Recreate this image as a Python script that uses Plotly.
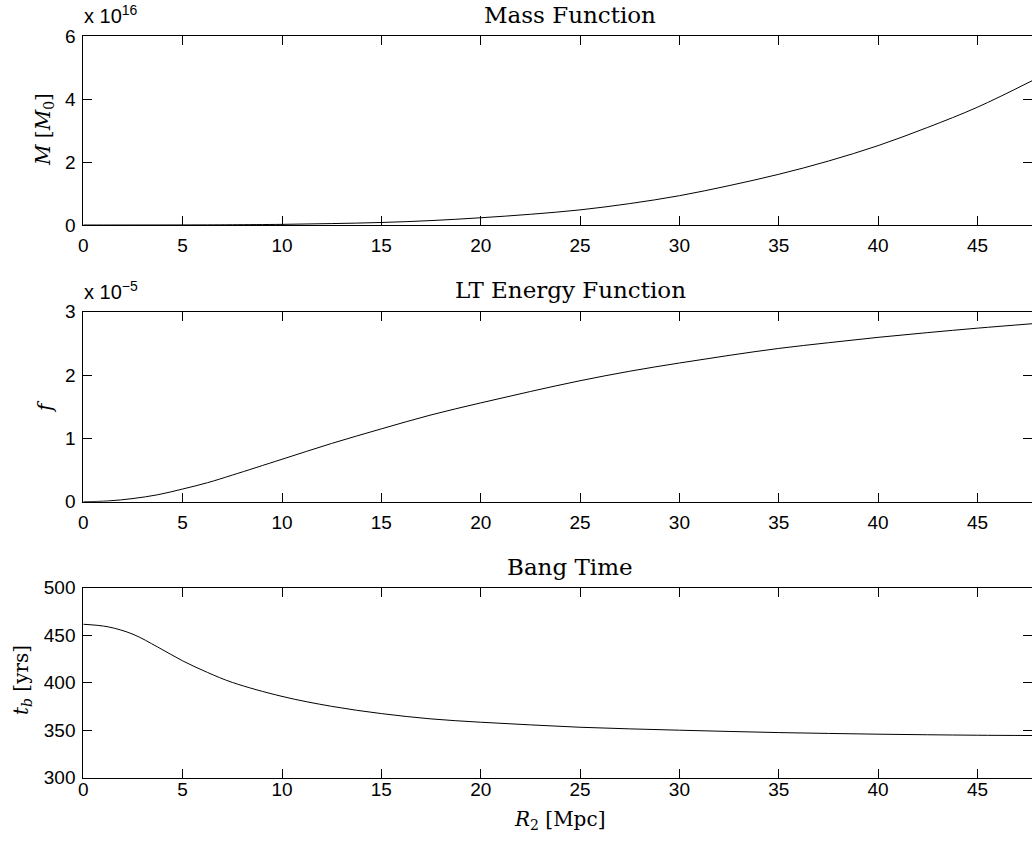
import plotly.graph_objects as go
from plotly.subplots import make_subplots

# ---- data ----
r2_mpc = [0, 1.25, 2.5, 3.75, 5, 6.25, 7.5, 10, 12.5, 15, 17.5, 20, 22.5, 25, 27.5,
          30, 32.5, 35, 37.5, 40, 42.5, 45, 47.75]
mass_1e16 = [0, 0.0, 0.0003, 0.001, 0.002, 0.004, 0.008, 0.02, 0.045, 0.08, 0.14, 0.23,
             0.34, 0.48, 0.68, 0.93, 1.25, 1.61, 2.03, 2.52, 3.10, 3.74, 4.58]
energy_1e5 = [0, 0.012, 0.05, 0.11, 0.20, 0.30, 0.42, 0.67, 0.92, 1.15, 1.37, 1.56,
              1.74, 1.91, 2.06, 2.19, 2.31, 2.42, 2.51, 2.595, 2.67, 2.74, 2.81]
bang_time = [461.5, 458.8, 451.0, 437.5, 423.0, 410.8, 400.3, 385.6, 375.1, 367.5,
             361.9, 358.4, 355.6, 353.1, 351.4, 350.0, 348.7, 347.5, 346.6, 345.8,
             345.2, 344.7, 344.4]

mass = [v * 1e16 for v in mass_1e16]
energy = [v * 1e-5 for v in energy_1e5]

x_ticks = [0, 5, 10, 15, 20, 25, 30, 35, 40, 45]
mass_ticks = [0, 2e16, 4e16, 6e16]
mass_ticktext = ["0", "2", "4", "6"]
energy_ticks = [0, 1e-5, 2e-5, 3e-5]
energy_ticktext = ["0", "1", "2", "3"]
bang_ticks = [300, 350, 400, 450, 500]

titles = ["Mass Function", "LT Energy Function", "Bang Time"]

W, H = 1032, 845
X0 = 83.3
PX_PER_UNIT = 19.87
x_max = (W - X0) / PX_PER_UNIT

def px(x):
    return x / W

def py(y):
    return 1 - y / H

fig = make_subplots(rows=3, cols=1)

for i, yvals in enumerate([mass, energy, bang_time], start=1):
    fig.add_trace(go.Scatter(x=r2_mpc, y=yvals, mode="lines",
                             line=dict(color="black", width=1, shape="spline", smoothing=1.0),
                             showlegend=False), row=i, col=1)

tick_font = dict(family="Liberation Sans, Arial, sans-serif", size=19, color="black")
common_x = dict(range=[0, x_max], tickvals=x_ticks, ticks="inside", ticklen=9,
                tickcolor="black", tickwidth=1, showline=True, linecolor="black",
                linewidth=1, mirror="allticks", showgrid=False, zeroline=False,
                tickfont=tick_font, domain=[X0 / W, 1], automargin=False)
common_y = dict(ticks="inside", ticklen=9, tickcolor="black", tickwidth=1,
                showline=True, linecolor="black", linewidth=1, mirror="allticks",
                showgrid=False, zeroline=False, tickfont=tick_font, ticklabelstandoff=3,
                automargin=False)

fig.update_layout(
    xaxis=dict(**common_x, ticklabelstandoff=3),
    xaxis2=dict(**common_x, ticklabelstandoff=3),
    xaxis3=dict(**common_x, ticklabelstandoff=-6),
    yaxis=dict(**common_y, range=[0, 6e16], tickvals=mass_ticks, ticktext=mass_ticktext,
               domain=[py(225), py(36)]),
    yaxis2=dict(**common_y, range=[0, 3e-5], tickvals=energy_ticks, ticktext=energy_ticktext,
                domain=[py(501.7), py(311.7)]),
    yaxis3=dict(**common_y, range=[300, 500], tickvals=bang_ticks,
                domain=[py(777.7), py(587.7)]),
)

serif = "DejaVu Serif, Liberation Serif, serif"
ann = []
title_y = [15, 290.5, 566.5]
for t, yy in zip(titles, title_y):
    ann.append(dict(text=t, x=px(570), y=py(yy), xref="paper", yref="paper",
                    xanchor="center", yanchor="middle", showarrow=False,
                    font=dict(family=serif, size=23, color="black")))

# exponent labels
ann.append(dict(text="x 10<sup>16</sup>", x=px(82), y=py(29), xref="paper", yref="paper",
                xanchor="left", yanchor="bottom", showarrow=False,
                font=dict(family="Liberation Sans, Arial, sans-serif", size=20, color="black")))
ann.append(dict(text="x 10<sup>\u22125</sup>", x=px(82), y=py(305), xref="paper", yref="paper",
                xanchor="left", yanchor="bottom", showarrow=False,
                font=dict(family="Liberation Sans, Arial, sans-serif", size=20, color="black")))

# axis labels
ann.append(dict(text="<i>M</i> [<i>M</i><sub>0</sub>]", x=px(44), y=py(130), xref="paper",
                yref="paper", xanchor="center", yanchor="middle", textangle=-90,
                showarrow=False, font=dict(family=serif, size=20, color="black")))
ann.append(dict(text="<i>f</i>", x=px(45), y=py(407), xref="paper",
                yref="paper", xanchor="center", yanchor="middle", textangle=-90,
                showarrow=False, font=dict(family=serif, size=20, color="black")))
ann.append(dict(text="<i>t</i><sub><i>b</i></sub> [yrs]", x=px(22), y=py(680), xref="paper",
                yref="paper", xanchor="center", yanchor="middle", textangle=-90,
                showarrow=False, font=dict(family=serif, size=20, color="black")))
ann.append(dict(text="<i>R</i><sub>2</sub> [Mpc]", x=px(559), y=py(820), xref="paper",
                yref="paper", xanchor="center", yanchor="middle",
                showarrow=False, font=dict(family=serif, size=20, color="black")))

fig.update_layout(annotations=ann, width=W, height=H,
                  margin=dict(l=0, r=0, t=0, b=0, autoexpand=False),
                  paper_bgcolor="white", plot_bgcolor="white")

fig.write_html("out.html")
